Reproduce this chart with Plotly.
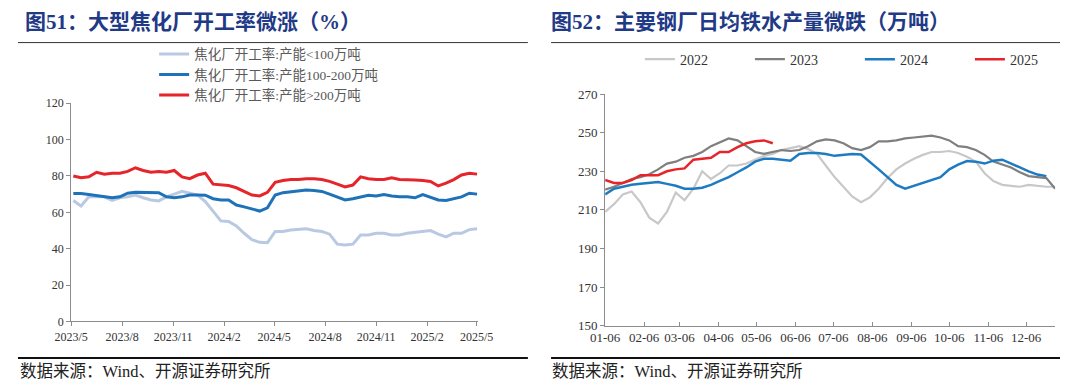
import plotly.graph_objects as go
import pandas as pd

W, H = 1080, 392

# ---------------- Left chart: coking plant utilisation (%) ----------------
left_dates = pd.date_range("2023-05-05", periods=53, freq="14D")
left_tickvals = ["2023-05-01", "2023-08-01", "2023-11-01", "2024-02-01", "2024-05-01",
                 "2024-08-01", "2024-11-01", "2025-02-01", "2025-05-01"]
left_ticktext = ["2023/5", "2023/8", "2023/11", "2024/2", "2024/5",
                 "2024/8", "2024/11", "2025/2", "2025/5"]

cap_lt100 = [66.5, 63.5, 68.5, 68.5, 68.5, 66.5, 68, 68.5, 69.5, 68,
             66.8, 66.3, 68.5, 70, 71.5, 70.5, 69.5, 65.9, 60.5, 55.3,
             55, 52.5, 48.5, 45, 43.5, 43.3,
             49.5, 49.5, 50.3, 50.5, 51, 50, 49.5, 48, 42.5, 42,
             42.5, 47.5, 47.5, 48.5, 48.5, 47.5, 47.5, 48.5, 49, 49.5,
             50, 48, 46.5, 48.5, 48.5, 50.5, 51]
cap_100_200 = [70.3, 70.3, 69.8, 69.3, 68.5, 68, 68.5, 70.5, 71, 71,
               70.8, 70.8, 68.5, 68, 68.5, 69.5, 69.5, 69.4, 67.5, 66.8,
               66.8, 64, 63, 61.8, 60.7, 62.5,
               69.5, 70.8, 71.2, 71.5, 72.3, 72, 71.5, 70, 68.5, 66.8,
               67.5, 68.5, 69.4, 69, 69.8, 69, 68.5, 68.5, 68, 69.8,
               68.5, 66.8, 66.5, 67.7, 68.5, 70.5, 70]
cap_gt200 = [80, 79, 79.5, 82, 81, 81.5, 81.5, 82.5, 84.5, 83,
             82, 82.5, 82, 83, 79.5, 78.5, 80.5, 81.5, 75.5, 75,
             74.7, 73.5, 71.5, 69.5, 69, 71,
             76.5, 77.5, 78, 78, 78.5, 78.5, 78, 77, 75.5, 74,
             75, 79.5, 78.5, 78, 78, 79, 78, 78, 77.8, 77.5,
             77, 74.5, 76, 78, 80.5, 81.5, 81]
left_names = ["焦化厂开工率:产能<100万吨", "焦化厂开工率:产能100-200万吨", "焦化厂开工率:产能>200万吨"]

# ---------------- Right chart: hot metal output (10k t) ----------------
right_dates = pd.date_range("2001-01-06", periods=52, freq="7D")
right_tickvals = ["2001-01-06", "2001-02-06", "2001-03-06", "2001-04-06", "2001-05-06", "2001-06-06",
                  "2001-07-06", "2001-08-06", "2001-09-06", "2001-10-06", "2001-11-06", "2001-12-06"]
right_ticktext = ["01-06", "02-06", "03-06", "04-06", "05-06", "06-06",
                  "07-06", "08-06", "09-06", "10-06", "11-06", "12-06"]

y2022 = [209, 213, 218, 219.5, 214, 206, 203, 209, 219, 215, 221, 230, 226, 229, 233, 233, 234, 236,
         238, 239, 241, 242,
         243, 241.5, 239, 233, 227, 222, 217, 214, 216.5, 221, 226.5, 231, 234, 236.5, 238.5, 240,
         240, 240.5, 239.5, 237.5, 235, 229, 225, 223, 222.5, 222, 223, 222.5, 222, 222]
y2023 = [220.5, 222, 224, 226, 227, 228.5, 231, 234, 235, 237, 238, 240, 243, 245, 247, 246, 243, 240,
         239, 240, 241, 240.5,
         241, 243, 245.5, 246.5, 246, 244.5, 242, 241, 242.5, 245.5, 245.5, 246, 247, 247.5, 248, 248.5,
         247.5, 246, 243, 242.5, 241, 238.5, 235, 233.5, 232, 229.5, 227.5, 227, 226.5, 221]
y2024 = [218, 221, 222, 223, 223.5, 224, 224.5, 223.5, 222.5, 221, 221, 221.5, 223, 225, 227, 229.5,
         232, 235, 236.5, 236.5, 236, 235.5,
         239, 239.5, 239.5, 239, 238, 238.5, 239, 238.7, 235, 231, 227, 223, 221, 222.5, 224, 225.5,
         227, 231, 233.5, 235.3, 235, 234, 235.5, 236, 233.8, 232, 230, 228.3, 227.5]
y2025 = [225.5, 224, 224, 225.5, 228, 228, 228, 230, 231, 231.5, 236, 236.5, 237, 240, 240, 242.5,
         244.5, 245.5, 246, 244.5]
right_names = ["2022", "2023", "2024", "2025"]

# ---------------- styles ----------------
SERIF = "Liberation Serif, 'Noto Sans CJK SC', serif"
AXIS_COLOR = "#8c8c8c"
TICK_FONT = dict(family=SERIF, size=12, color="#333333")
TF13 = dict(family=SERIF, size=13, color="#333333")

fig = go.Figure()

left_colors = ["#B8C9E1", "#1F72B8", "#E5252A"]
for name, vals, col in zip(left_names, [cap_lt100, cap_100_200, cap_gt200], left_colors):
    fig.add_trace(go.Scatter(x=left_dates, y=vals, name=name, mode="lines",
                             line=dict(color=col, width=3), xaxis="x", yaxis="y",
                             legend="legend"))

right_colors = ["#C8C8C8", "#7F7F7F", "#1F7BC1", "#E5252A"]
right_widths = [2.2, 2.2, 2.5, 2.5]
for name, vals, col, lw in zip(right_names, [y2022, y2023, y2024, y2025], right_colors, right_widths):
    fig.add_trace(go.Scatter(x=right_dates[:len(vals)], y=vals, name=name, mode="lines",
                             line=dict(color=col, width=lw), xaxis="x2", yaxis="y2",
                             legend="legend2"))


def fx(px):
    return px / W


def fy(py):
    return 1 - py / H


axis_common = dict(showline=True, linecolor=AXIS_COLOR, linewidth=1, showgrid=False,
                   zeroline=False, tickcolor=AXIS_COLOR, ticklen=4)

fig.update_layout(
    width=W, height=H, autosize=False,
    margin=dict(l=0, r=0, t=0, b=0),
    paper_bgcolor="white", plot_bgcolor="white",
    xaxis=dict(domain=[fx(56), fx(477)], anchor="y", type="date",
               range=["2023-05-01", "2025-05-03"], tickmode="array",
               tickvals=left_tickvals, ticktext=left_ticktext, ticks="outside",
               tickfont=TICK_FONT, **axis_common),
    yaxis=dict(domain=[fy(327), fy(100)], anchor="x", range=[0, 120], tick0=0, dtick=20,
               ticks="outside", tickfont=TICK_FONT, **axis_common),
    xaxis2=dict(domain=[fx(609), fx(1075)], anchor="y2", type="date",
                range=["2001-01-06", "2001-12-29"], tickmode="array",
                tickvals=right_tickvals, ticktext=right_ticktext, ticks="inside",
                tickfont=TF13, **axis_common),
    yaxis2=dict(domain=[fy(331.5), fy(90.5)], anchor="x2", range=[150, 270], tick0=150, dtick=20,
                ticks="outside", tickfont=TF13, **axis_common),
    legend=dict(x=fx(142), y=fy(33), xanchor="left", yanchor="top", orientation="v",
                font=dict(family=SERIF, size=13.5, color="#595959"),
                bgcolor="rgba(0,0,0,0)", itemwidth=30, tracegroupgap=0),
    legend2=dict(x=fx(645), y=fy(38), xanchor="left", yanchor="top", orientation="h",
                 font=dict(family=SERIF, size=14, color="#333333"),
                 bgcolor="rgba(0,0,0,0)", itemwidth=30, entrywidth=65, entrywidthmode="pixels"),
    showlegend=True,
)

# titles
TITLE_FONT = dict(family=SERIF, size=21, color="#1F3A86")
fig.add_annotation(x=fx(6), y=fy(16), xref="paper", yref="paper", xanchor="left", yanchor="middle",
                   text="<b>图51：大型焦化厂开工率微涨（%）</b>", showarrow=False, font=TITLE_FONT)
fig.add_annotation(x=fx(551), y=fy(16), xref="paper", yref="paper", xanchor="left", yanchor="middle",
                   text="<b>图52：主要钢厂日均铁水产量微跌（万吨）</b>", showarrow=False, font=TITLE_FONT)
# sources
for x0 in (1, 552):
    fig.add_annotation(x=fx(x0), y=fy(379), xref="paper", yref="paper", xanchor="left", yanchor="middle",
                       text="数据来源：Wind、开源证券研究所", showarrow=False,
                       font=dict(family=SERIF, size=16.5, color="#222222"))

# rules
for (a, b) in ((1, 529), (553, 1080)):
    fig.add_shape(type="line", xref="paper", yref="paper", x0=fx(a), x1=fx(b), y0=fy(37), y1=fy(37),
                  line=dict(color="#333333", width=1))
    fig.add_shape(type="line", xref="paper", yref="paper", x0=fx(a), x1=fx(b), y0=fy(365), y1=fy(365),
                  line=dict(color="#111111", width=2))

fig.write_html("out.html", config={"displayModeBar": False},
               post_script="document.body.style.margin='0px';document.body.style.overflow='hidden';")
